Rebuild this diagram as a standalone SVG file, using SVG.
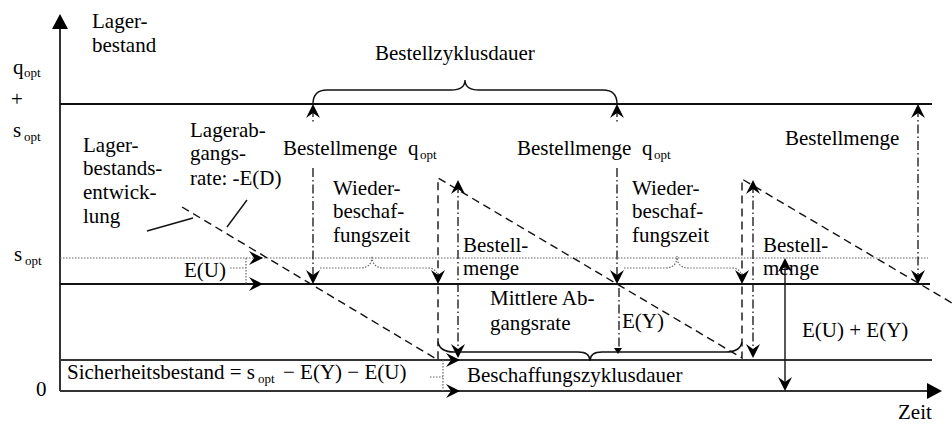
<svg xmlns="http://www.w3.org/2000/svg" width="952" height="425" viewBox="0 0 952 425">
<style>
text{font-family:"Liberation Serif","Times New Roman",serif;font-size:21px;fill:#000}
.sub{font-size:13px}
.ln{stroke:#111;stroke-width:2;fill:none}
.ax{stroke:#333;stroke-width:2;fill:none}
.dot{stroke:#666;stroke-width:1.2;stroke-dasharray:1.5 1.5;fill:none}
.dash{stroke:#111;stroke-width:1.4;stroke-dasharray:8 5;fill:none}
.dd{stroke:#111;stroke-width:1.3;stroke-dasharray:9 3 1.5 3;fill:none}
.thin{stroke:#111;stroke-width:1.4;fill:none}
.ah{fill:#000}
</style>
<defs>
<path id="ahN" d="M0,0 L-14,-7 L-9,0 L-14,7 Z"/>
<path id="ahT" d="M0,0 L-15,-8 L-15,8 Z"/>
<path id="ahS" d="M0,0 L-6,-4 L-6,4 Z"/>
</defs>
<rect width="952" height="425" fill="#fff"/>

<g id="axes">
<path class="ax" d="M60,391 V28"/>
<use href="#ahT" class="ah" transform="translate(60,14) rotate(-90)"/>
<path class="ax" d="M60,391 H928"/>
<use href="#ahT" class="ah" transform="translate(942,391)"/>
</g>

<g id="levels">
<path class="ln" d="M60,104 H932"/>
<path class="dot" d="M60,258 H928"/>
<path class="ln" d="M60,284 H930"/>
<path class="ax" d="M60,360 H932"/>
</g>

<g id="stock">
<path class="dash" d="M182,207 L438,360 L438,178 L742,358 L742,179 L952,303"/>
</g>

<g id="connectors">
<path class="thin" d="M313,104 Q313,90 327,90 L451,90 Q465,90 465,80 Q465,90 479,90 L603,90 Q617,90 617,104"/>
<path class="dd" d="M313,108 V122 M313,168 V280 M617,108 V122 M617,168 V280 M918,108 V280"/>
<use href="#ahN" class="ah" transform="translate(313,104) rotate(-90)"/>
<use href="#ahN" class="ah" transform="translate(617,104) rotate(-90)"/>
<use href="#ahN" class="ah" transform="translate(918,104) rotate(-90)"/>
<use href="#ahN" class="ah" transform="translate(313,284) rotate(90)"/>
<use href="#ahN" class="ah" transform="translate(617,284) rotate(90)"/>
<use href="#ahN" class="ah" transform="translate(918,284) rotate(90)"/>

<path class="dot" d="M320,268 L360,268 Q372,268 372,256 Q372,268 384,268 L428,268 Q438,268 438,280"/>
<path class="dot" d="M624,268 L665,268 Q677,268 677,256 Q677,268 689,268 L732,268 Q742,268 742,280"/>
<use href="#ahN" class="ah" transform="translate(438,284) rotate(90)"/>
<use href="#ahN" class="ah" transform="translate(742,284) rotate(90)"/>

<path class="dd" d="M458,184 V354 M753,184 V354"/>
<use href="#ahN" class="ah" transform="translate(458,180) rotate(-90)"/>
<use href="#ahN" class="ah" transform="translate(458,358) rotate(90)"/>
<use href="#ahN" class="ah" transform="translate(753,180) rotate(-90)"/>
<use href="#ahN" class="ah" transform="translate(753,358) rotate(90)"/>

<path class="thin" d="M785,262 V387"/>
<use href="#ahN" class="ah" transform="translate(785,258) rotate(-90)"/>
<use href="#ahN" class="ah" transform="translate(785,391) rotate(90)"/>

<path class="dd" d="M619,288 V348"/>
<use href="#ahS" class="ah" transform="translate(618,354) rotate(90)"/>

<path class="thin" d="M438,342 Q440,352 454,352 L578,352 Q590,352 590,361 Q590,352 602,352 L726,352 Q740,352 742,342"/>

<path class="dot" d="M230,268 H246 M246,258 V284"/>
<use href="#ahN" class="ah" transform="translate(263,258)"/>
<use href="#ahN" class="ah" transform="translate(263,284)"/>

<path class="dot" d="M430,377 H443 M443,360 V391"/>
<use href="#ahN" class="ah" transform="translate(460,360)"/>
<use href="#ahN" class="ah" transform="translate(460,391)"/>

<path class="thin" d="M147,231 L193,218"/>
<path class="thin" d="M247,200 L227,227"/>
</g>

<g id="axis-labels">
<text x="92" y="28">Lager-</text>
<text x="92" y="52">bestand</text>
<text x="13" y="74">q</text><text class="sub" x="24" y="77">opt</text>
<text x="11" y="106">+</text>
<text x="13" y="137">s</text><text class="sub" x="24" y="141">opt</text>
<text x="14" y="261">s</text><text class="sub" x="25" y="265">opt</text>
<text x="36" y="396">0</text>
<text x="898" y="419">Zeit</text>
</g>

<g id="labels">
<text x="375" y="60">Bestellzyklusdauer</text>
<text x="83" y="152">Lager-</text>
<text x="83" y="175">bestands-</text>
<text x="83" y="199">entwick-</text>
<text x="83" y="223">lung</text>
<text x="190" y="137">Lagerab-</text>
<text x="190" y="160">gangs-</text>
<text x="190" y="185">rate: -E(D)</text>
<text x="283" y="155">Bestellmenge</text><text x="408" y="155">q</text><text class="sub" x="420" y="159">opt</text>
<text x="517" y="155">Bestellmenge</text><text x="642" y="155">q</text><text class="sub" x="654" y="159">opt</text>
<text x="785" y="145">Bestellmenge</text>
<text x="333" y="195">Wieder-</text>
<text x="333" y="218">beschaf-</text>
<text x="333" y="242">fungszeit</text>
<text x="632" y="195">Wieder-</text>
<text x="632" y="218">beschaf-</text>
<text x="632" y="242">fungszeit</text>
<text x="463" y="252">Bestell-</text>
<text x="463" y="275">menge</text>
<text x="763" y="252">Bestell-</text>
<text x="763" y="275">menge</text>
<text x="184" y="277">E(U)</text>
<text x="490" y="305">Mittlere Ab-</text>
<text x="490" y="330">gangsrate</text>
<text x="622" y="328">E(Y)</text>
<text x="802" y="337">E(U) + E(Y)</text>
<text x="467" y="382">Beschaffungszyklusdauer</text>
<text x="67" y="379">Sicherheitsbestand = s</text><text class="sub" x="258" y="383">opt</text><text x="283" y="379">− E(Y) − E(U)</text>
</g>
</svg>
